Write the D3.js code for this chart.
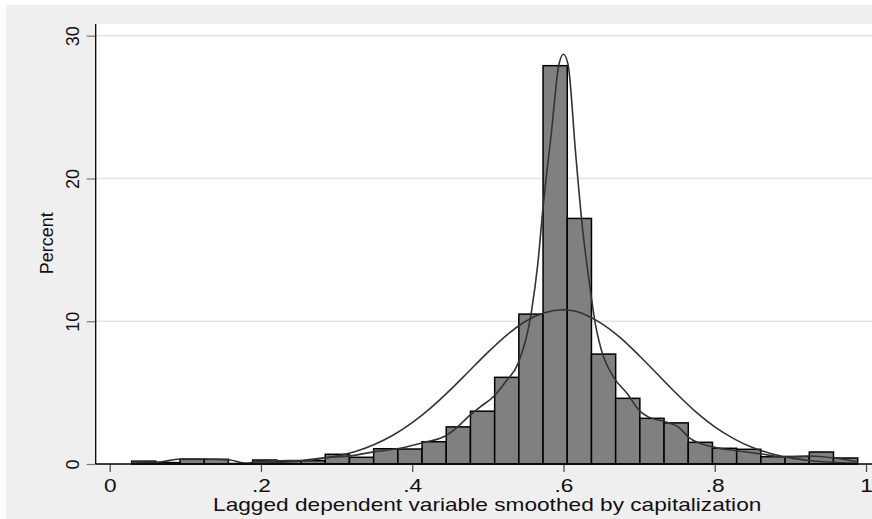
<!DOCTYPE html>
<html>
<head>
<meta charset="utf-8">
<script src="https://cdn.jsdelivr.net/npm/d3@7"></script>
<style>
  body { margin: 0; background: #fff; }
  text { font-family: "Liberation Sans", Arial, sans-serif; fill: #111; }
</style>
</head>
<body>
<div id="chart"></div>
<script>
// histogram: percent per bin, bins of equal width starting at binLo
var binLo = 0.029,
    binWidth = 0.032;
var binPercent = [0.2, 0.1, 0.33, 0.33, 0.03, 0.28, 0.19, 0.23, 0.68, 0.47,
                  1.07, 1.05, 1.56, 2.6, 3.7, 6.07, 10.5, 27.9, 17.2, 7.7,
                  4.6, 3.2, 2.88, 1.52, 1.1, 1.03, 0.51, 0.53, 0.84, 0.42];

// kernel density overlay (in percent units)
var kdeX = [0.03, 0.062, 0.093, 0.12, 0.159, 0.172, 0.18, 0.194, 0.221, 0.252, 0.287, 0.318,
            0.349, 0.384, 0.415, 0.445, 0.46, 0.476, 0.49, 0.509, 0.524, 0.54, 0.558, 0.566,
            0.573, 0.584, 0.594, 0.6, 0.606, 0.616, 0.624, 0.636, 0.642, 0.65, 0.666, 0.684,
            0.701, 0.712, 0.732, 0.754, 0.766, 0.797, 0.829, 0.862, 0.893, 0.925, 0.958, 0.989];
var kdeY = [0.15, 0.12, 0.35, 0.35, 0.28, 0.12, 0.05, 0.15, 0.22, 0.25, 0.45, 0.57,
            0.85, 1.1, 1.5, 2.0, 2.6, 3.4, 4.0, 4.8, 5.8, 7.05, 10.8, 14.0,
            18.0, 23.2, 28.0, 28.7, 28.0, 21.8, 17.1, 12.0, 9.85, 8.0, 6.1, 4.95,
            3.7, 3.3, 3.0, 2.5, 1.85, 1.2, 0.93, 0.7, 0.47, 0.56, 0.42, 0.16];

// normal overlay
var normX = [0.03, 0.1, 0.15, 0.2, 0.25, 0.275, 0.3, 0.325, 0.35, 0.375, 0.4, 0.425,
             0.45, 0.475, 0.5, 0.525, 0.55, 0.575, 0.6, 0.625, 0.65, 0.675, 0.7, 0.725,
             0.75, 0.775, 0.8, 0.825, 0.85, 0.875, 0.9, 0.925, 0.95, 0.989];
var normY = [0.0, 0.01, 0.02, 0.06, 0.19, 0.33, 0.55, 0.88, 1.37, 2.03, 2.9, 3.95,
             5.17, 6.5, 7.82, 9.03, 10.0, 10.6, 10.8, 10.55, 9.85, 8.85, 7.6, 6.25,
             4.9, 3.65, 2.6, 1.78, 1.15, 0.72, 0.43, 0.25, 0.14, 0.05];

var xTicks = [0, 0.2, 0.4, 0.6, 0.8, 1],
    yTicks = [0, 10, 20, 30];
var xTitle = "Lagged dependent variable smoothed by capitalization",
    yTitle = "Percent";

var width = 872,
    height = 519,
    plotLeft = 95.7,
    plotTop = 24,
    plotBottom = 464,
    stretch = 1.26;   // picture is a little wider than tall text would be

var x = d3.scaleLinear().domain([0, 1]).range([109.7, 866]);
var y = d3.scaleLinear().domain([0, 30]).range([plotBottom, 35.7]);

var svg = d3.select("#chart").append("svg")
    .attr("width", width)
    .attr("height", height);

// outer graph region
svg.append("rect")
    .attr("x", 6).attr("y", 5)
    .attr("width", width - 6).attr("height", height - 5)
    .attr("fill", "#efefef");

// plot region
svg.append("rect")
    .attr("x", plotLeft).attr("y", plotTop)
    .attr("width", width - plotLeft).attr("height", plotBottom - plotTop)
    .attr("fill", "#fff");

// gridlines
svg.selectAll(".grid")
    .data(yTicks.filter(function(d) { return d > 0; }))
  .enter().append("line")
    .attr("class", "grid")
    .attr("x1", plotLeft).attr("x2", width)
    .attr("y1", function(d) { return y(d); })
    .attr("y2", function(d) { return y(d); })
    .attr("stroke", "#e4e4e4")
    .attr("stroke-width", 1.4);

// bars
svg.selectAll(".bar")
    .data(binPercent)
  .enter().append("rect")
    .attr("class", "bar")
    .attr("x", function(d, i) { return x(binLo + i * binWidth); })
    .attr("width", function(d, i) { return x(binLo + (i + 1) * binWidth) - x(binLo + i * binWidth); })
    .attr("y", function(d) { return y(d); })
    .attr("height", function(d) { return y(0) - y(d); })
    .attr("fill", "#808080")
    .attr("stroke", "#000")
    .attr("stroke-width", 1.5);

var line = d3.line()
    .x(function(d) { return x(d[0]); })
    .y(function(d) { return y(d[1]); })
    .curve(d3.curveMonotoneX);

svg.append("path")
    .datum(d3.zip(normX, normY))
    .attr("d", line)
    .attr("fill", "none")
    .attr("stroke", "#333")
    .attr("stroke-width", 1.6);

svg.append("path")
    .datum(d3.zip(kdeX, kdeY))
    .attr("d", line)
    .attr("fill", "none")
    .attr("stroke", "#333")
    .attr("stroke-width", 1.6);

// x axis
var xAxis = d3.axisBottom(x)
    .tickValues(xTicks)
    .tickSize(8)
    .tickFormat(function(d) { return d === 0 || d === 1 ? String(d) : d3.format(".1f")(d).replace(/^0/, ""); });

var gx = svg.append("g")
    .attr("transform", "translate(0," + plotBottom + ")")
    .call(xAxis);
gx.select(".domain").remove();
gx.selectAll(".tick line").attr("stroke", "#444").attr("stroke-width", 1.2);
gx.selectAll(".tick text")
    .attr("y", null).attr("dy", null)
    .attr("transform", "translate(0,27.5) scale(" + stretch + ",1)")
    .attr("text-anchor", "middle")
    .style("font-size", "18px")
    .attr("fill", "#111");

svg.append("line")
    .attr("x1", plotLeft).attr("x2", width)
    .attr("y1", plotBottom).attr("y2", plotBottom)
    .attr("stroke", "#000").attr("stroke-width", 1.3);

// y axis
var yAxis = d3.axisLeft(y)
    .tickValues(yTicks)
    .tickSize(9)
    .tickFormat(d3.format("d"));

var gy = svg.append("g")
    .attr("transform", "translate(" + plotLeft + ",0)")
    .call(yAxis);
gy.select(".domain").remove();
gy.selectAll(".tick line").attr("stroke", "#777").attr("stroke-width", 1.2);
gy.selectAll(".tick text")
    .attr("x", null).attr("dy", null)
    .attr("transform", "translate(-16.7,0) rotate(-90)")
    .attr("text-anchor", "middle")
    .style("font-size", "18px")
    .attr("fill", "#111");

svg.append("line")
    .attr("x1", plotLeft).attr("x2", plotLeft)
    .attr("y1", plotTop).attr("y2", plotBottom)
    .attr("stroke", "#000").attr("stroke-width", 1.3);

// titles
svg.append("text")
    .attr("transform", "translate(" + ((211.7 + 762.7) / 2) + ",511) scale(" + stretch + ",1)")
    .attr("text-anchor", "middle")
    .style("font-size", "18px")
    .text(xTitle);

svg.append("text")
    .attr("transform", "translate(52.7,243.3) rotate(-90)")
    .attr("text-anchor", "middle")
    .style("font-size", "18px")
    .text(yTitle);
</script>
</body>
</html>
